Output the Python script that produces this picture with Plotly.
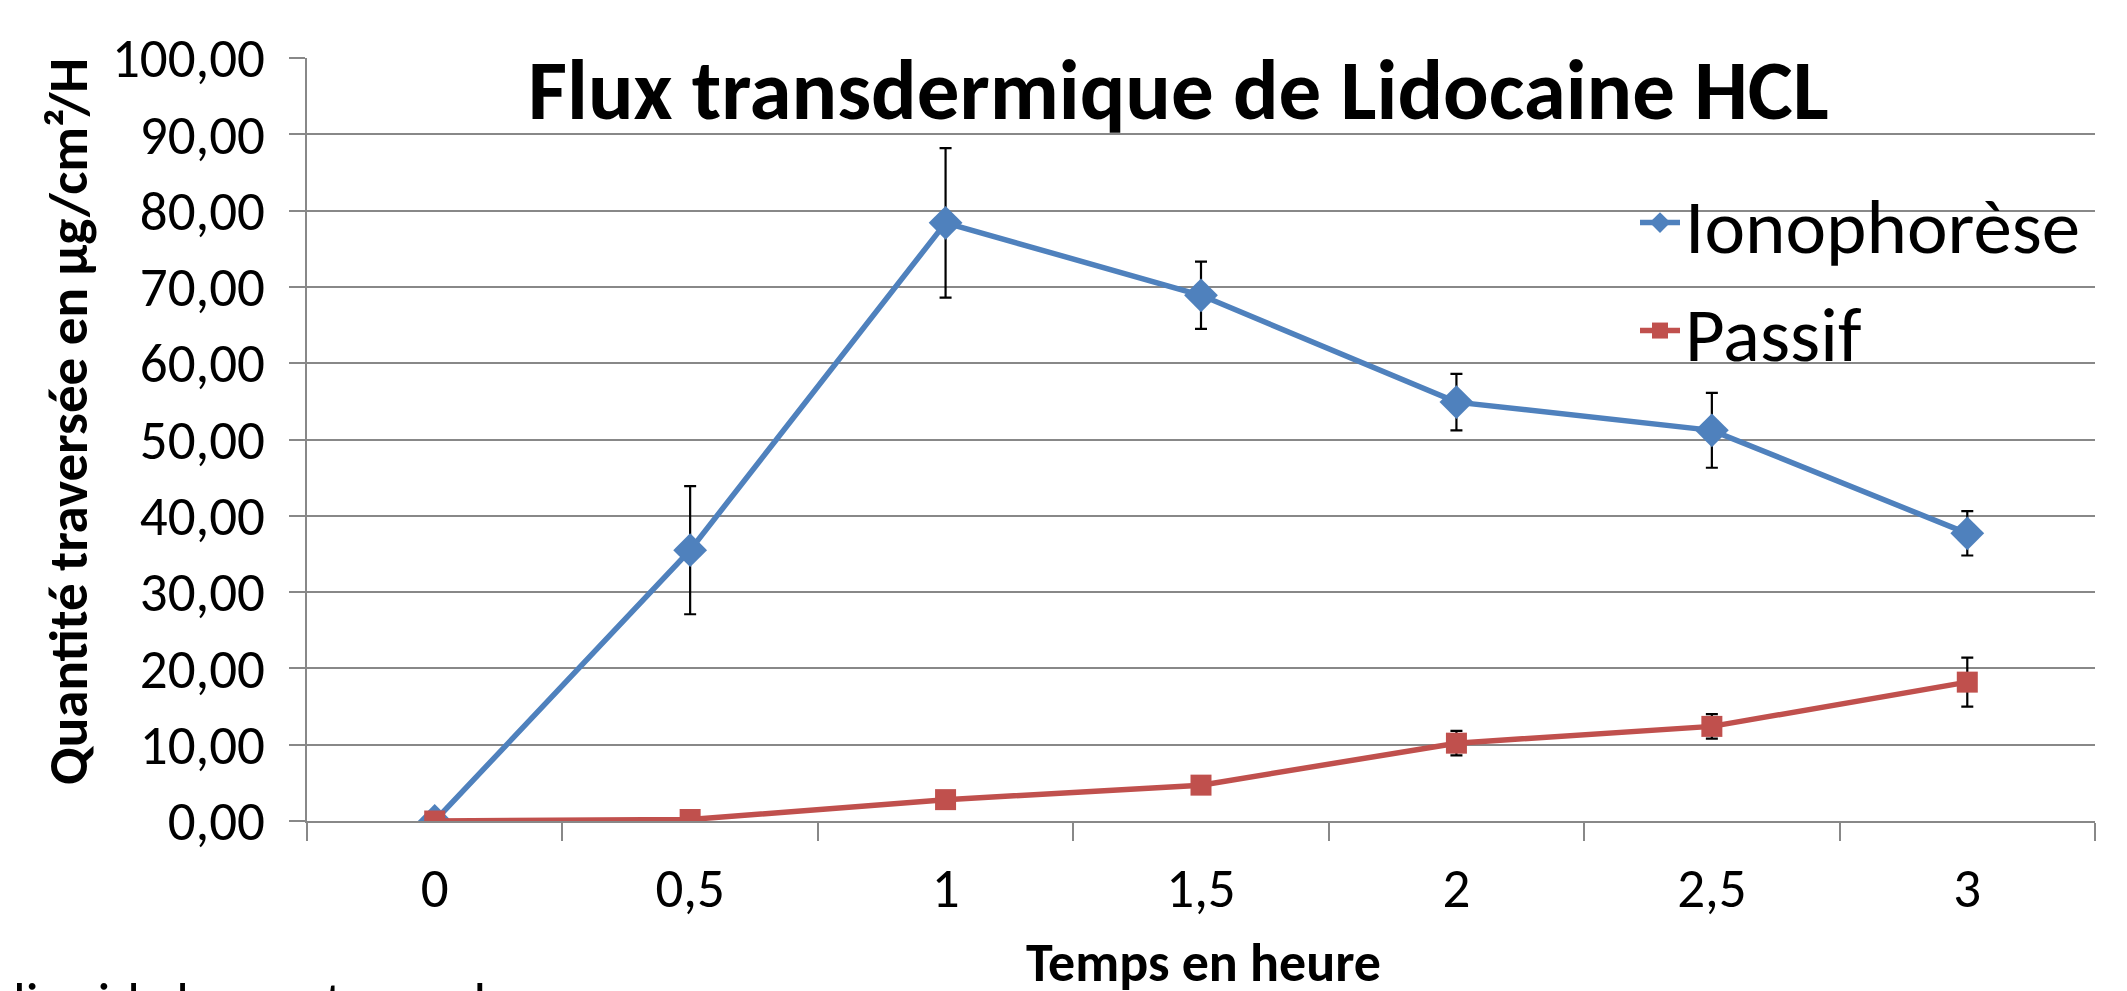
import plotly.graph_objects as go

# ---- data ----
time_labels = ["0", "0,5", "1", "1,5", "2", "2,5", "3"]
iono_values = [0.0, 35.5, 78.4, 68.9, 54.9, 51.2, 37.7]
iono_errors = [0.0, 8.4, 9.8, 4.4, 3.7, 4.9, 2.9]
passif_values = [0.0, 0.2, 2.8, 4.7, 10.2, 12.4, 18.2]
passif_errors = [0.0, 0.2, 0.5, 0.5, 1.6, 1.6, 3.2]
y_ticks = [0, 10, 20, 30, 40, 50, 60, 70, 80, 90, 100]

FONT = "Carlito, Calibri, Lato, sans-serif"
OFF = 8  # page body margin
W, H = 2127 - OFF, 991 - OFF
# plot area in page pixels
L, R, T, B = 307, 2095, 58, 821


def px(x):
    return (x - L) / (R - L)


def py(y):
    return (B - y) / (B - T)


fig = go.Figure()
fig.add_trace(go.Scatter(
    x=time_labels, y=iono_values, name="Ionophorèse", mode="lines+markers",
    line=dict(color="#4F81BD", width=5.5),
    marker=dict(symbol="diamond", size=26, color="#4F81BD"),
    error_y=dict(type="data", array=iono_errors, visible=True, color="black", thickness=2.2, width=6),
    legend="legend",
))
fig.add_trace(go.Scatter(
    x=time_labels, y=passif_values, name="Passif", mode="lines+markers",
    line=dict(color="#C0504D", width=5.5),
    marker=dict(symbol="square", size=21, color="#C0504D"),
    error_y=dict(type="data", array=passif_errors, visible=True, color="black", thickness=2.2, width=6),
    legend="legend2",
))

legend_common = dict(xanchor="left", yanchor="middle", font=dict(size=77, family=FONT),
                     bgcolor="rgba(0,0,0,0)", itemwidth=40)

fig.update_layout(
    width=W, height=H,
    margin=dict(l=L - OFF, r=W - (R - OFF), t=T - OFF, b=H - (B - OFF), pad=0),
    paper_bgcolor="white", plot_bgcolor="white",
    separators=",.",
    font=dict(family=FONT, color="black"),
    showlegend=True,
    legend=dict(x=px(1635), y=py(223), **legend_common),
    legend2=dict(x=px(1635), y=py(331), **legend_common),
    xaxis=dict(
        type="category", tickson="boundaries", ticks="outside", ticklen=18,
        tickwidth=2, tickcolor="#888888", showline=True, linecolor="#888888", linewidth=2,
        showgrid=False, tickfont=dict(size=55, family=FONT), ticklabelstandoff=18,
        range=[-0.5, 6.5],
    ),
    yaxis=dict(
        range=[0, 100], tickvals=y_ticks, tickformat=".2f", ticks="outside", ticklen=16,
        tickwidth=2, tickcolor="#888888", showline=True, linecolor="#888888", linewidth=2,
        showgrid=True, gridcolor="#888888", gridwidth=2, zeroline=False,
        tickfont=dict(size=55, family=FONT), ticklabelstandoff=13,
    ),
    annotations=[
        dict(text="<b>Flux transdermique de Lidocaine HCL</b>", xref="paper", yref="paper",
             x=px(1178), y=py(90), xanchor="center", yanchor="middle", showarrow=False,
             font=dict(size=85, family=FONT)),
        dict(text="<b>Temps en heure</b>", xref="paper", yref="paper",
             x=px(1203), y=py(963), xanchor="center", yanchor="middle", showarrow=False,
             font=dict(size=54, family=FONT)),
        dict(text="<b>Quantité traversée en µg/cm²/H</b>", xref="paper", yref="paper",
             x=px(68), y=py(422), xanchor="center", yanchor="middle", showarrow=False,
             textangle=-90, font=dict(size=55, family=FONT)),
        dict(text="liquid chromatography", xref="paper", yref="paper",
             x=px(11), y=py(966), xanchor="left", yanchor="top", showarrow=False,
             font=dict(size=56, family=FONT)),
    ],
)

fig.write_html("out.html")
